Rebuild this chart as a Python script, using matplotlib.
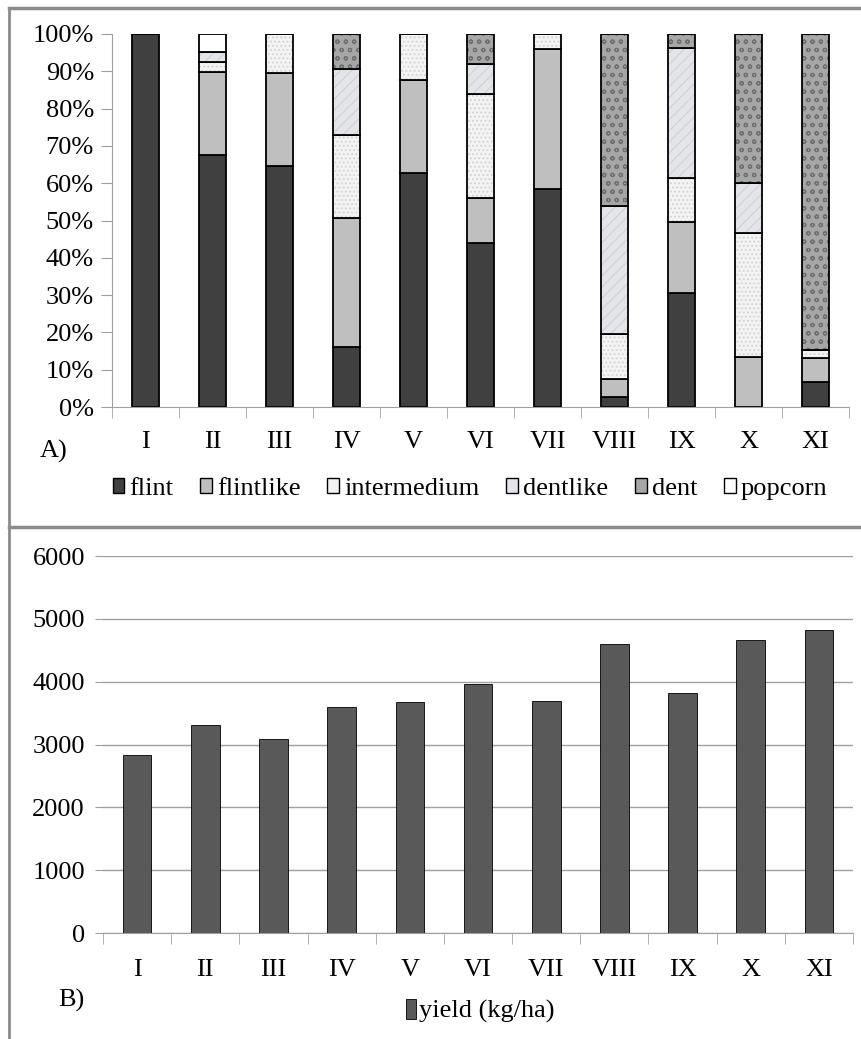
import matplotlib.pyplot as plt
import numpy as np
from matplotlib.lines import Line2D
from matplotlib.patches import Patch

plt.rcParams['font.family'] = ['Liberation Serif', 'DejaVu Serif']
plt.rcParams['hatch.linewidth'] = 0.8

groups = ['I', 'II', 'III', 'IV', 'V', 'VI', 'VII', 'VIII', 'IX', 'X', 'XI']

# kernel type shares (%)
flint = [100, 67.6, 64.5, 16.1, 62.7, 44.1, 58.4, 2.6, 30.6, 0, 6.6]
flintlike = [0, 22.3, 25.0, 34.6, 25.1, 11.9, 37.6, 4.9, 19.0, 13.3, 6.5]
intermedium = [0, 2.7, 10.5, 22.2, 12.2, 28.0, 4.0, 12.2, 11.8, 33.3, 2.3]
dentlike = [0, 2.5, 0, 17.7, 0, 8.0, 0, 34.1, 34.8, 13.4, 0]
dent = [0, 0, 0, 9.4, 0, 8.0, 0, 46.2, 3.8, 40.0, 84.6]
popcorn = [0, 4.9, 0, 0, 0, 0, 0, 0, 0, 0, 0]

yield_kg = [2830, 3310, 3080, 3590, 3675, 3955, 3695, 4600, 3820, 4670, 4815]

series = [
    ('flint', flint, '#404040', None, None),
    ('flintlike', flintlike, '#bfbfbf', None, None),
    ('intermedium', intermedium, '#f3f3f3', '....', '#d2d2d2'),
    ('dentlike', dentlike, '#e3e5e9', '///', '#cfd1d5'),
    ('dent', dent, '#a6a6a6', 'oo', '#6e6e6e'),
    ('popcorn', popcorn, '#ffffff', None, None),
]

FS = 19
W, H = 861, 1039
fig = plt.figure(figsize=(W / 100, H / 100), dpi=100)

# panel A
ax1 = fig.add_axes([112 / W, 1 - 407 / H, 737 / W, 373 / H])
x = np.arange(len(groups))
bottom = np.zeros(len(groups))
handles = []
for name, vals, col, hatch, hcol in series:
    vals = np.array(vals, dtype=float)
    if hatch:
        ax1.bar(x, vals, 0.41, bottom=bottom, color=col, hatch=hatch,
                edgecolor=hcol, linewidth=0)
    ax1.bar(x, vals, 0.41, bottom=bottom, color=col if not hatch else 'none',
            edgecolor='black', linewidth=1.3)
    bottom += vals
    handles.append(Patch(facecolor=col, edgecolor='black', linewidth=1.0))

ax1.set_xlim(-0.5, len(groups) - 0.5)
ax1.set_ylim(0, 100)
ax1.set_yticks(np.arange(0, 101, 10))
ax1.set_yticklabels([f'{v}%' for v in range(0, 101, 10)])
ax1.set_xticks(x)
ax1.set_xticklabels(groups)
ax1.set_xticks(np.arange(-0.5, len(groups), 1), minor=True)
ax1.tick_params(axis='x', which='major', length=0, pad=17, labelsize=FS)
ax1.tick_params(axis='x', which='minor', length=8, color='#a0a0a0', direction='out')
ax1.tick_params(axis='y', length=8, color='#a0a0a0', labelsize=FS, pad=5)
for s in ['top', 'right']:
    ax1.spines[s].set_visible(False)
for s in ['left', 'bottom']:
    ax1.spines[s].set_color('#a0a0a0')

fig.text(40 / W, 1 - 451 / H, 'A)', fontsize=FS, va='center')
fig.legend(handles, [s[0] for s in series], loc='center', ncol=6,
           bbox_to_anchor=(470 / W, 1 - 489 / H), frameon=False, fontsize=FS,
           handlelength=0.45, handleheight=0.5, handletextpad=0.2,
           columnspacing=1.0)

# panel B
ax2 = fig.add_axes([103 / W, 1 - 933 / H, 750 / W, 377 / H])
ax2.bar(x, yield_kg, 0.42, color='#595959', edgecolor='black', linewidth=0.6,
        zorder=3)
ax2.set_xlim(-0.5, len(groups) - 0.5)
ax2.set_ylim(0, 6000)
ax2.set_yticks(np.arange(0, 6001, 1000))
ax2.grid(axis='y', color='#a0a0a0', linewidth=1.0, zorder=0)
ax2.set_xticks(x)
ax2.set_xticklabels(groups)
ax2.set_xticks(np.arange(-0.5, len(groups), 1), minor=True)
ax2.tick_params(axis='x', which='major', length=0, pad=19, labelsize=FS)
ax2.tick_params(axis='x', which='minor', length=8, color='#a0a0a0')
ax2.tick_params(axis='y', length=6, color='#a0a0a0', labelsize=FS, pad=7)
for s in ['top', 'right', 'left']:
    ax2.spines[s].set_visible(False)
ax2.spines['bottom'].set_color('#a0a0a0')

fig.text(58 / W, 1 - 1000 / H, 'B)', fontsize=FS, va='center')
fig.legend([Patch(facecolor='#595959', edgecolor='black', linewidth=0.6)],
           ['yield (kg/ha)'], loc='center', bbox_to_anchor=(480 / W, 1 - 1011 / H),
           frameon=False, fontsize=FS, handlelength=0.4, handleheight=0.8,
           handletextpad=0.1)

# panel frames
fc = '#8c8c8c'
fig.add_artist(Line2D([9 / W, 1], [1 - 8 / H, 1 - 8 / H], color=fc, lw=2.5))
fig.add_artist(Line2D([9 / W, 9 / W], [1 - 8 / H, 0], color=fc, lw=2.0))
fig.add_artist(Line2D([9 / W, 1], [1 - 527 / H, 1 - 527 / H], color=fc, lw=2.5))

fig.savefig('out.png', dpi=100)
